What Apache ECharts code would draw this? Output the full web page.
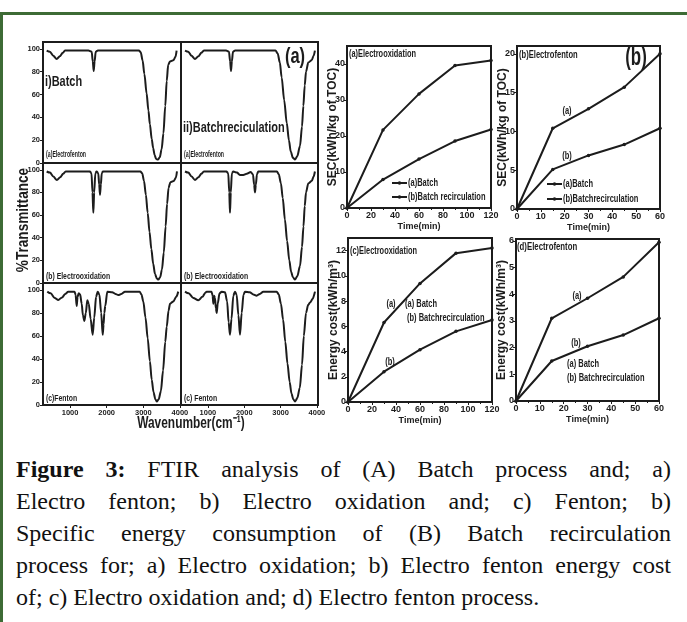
<!DOCTYPE html>
<html>
<head>
<meta charset="utf-8">
<script src="https://cdn.jsdelivr.net/npm/echarts@6/dist/echarts.min.js"></script>
<style>
  html, body { margin: 0; padding: 0; background: #fff; }
  #frame { position: absolute; left: 0; top: 12px; width: 684px; height: 607px;
           border-top: 3px solid #3d6b35; border-left: 3px solid #3d6b35; }
  #chart { position: absolute; left: 0; top: 0; width: 687px; height: 450px; }
  #caption { position: absolute; left: 16px; top: 453px; width: 655px;
             font-family: 'Liberation Serif', 'Times New Roman', serif; font-size: 24px;
             line-height: 32px; color: #111; }
  #caption div { white-space: nowrap; text-align: justify; text-align-last: justify; }
  #caption div.last { text-align-last: left; }
</style>
</head>
<body>
<div id="frame"></div>
<div id="chart"></div>
<div id="caption"></div>
<script>
// ---- FTIR spectra: [wavenumber cm-1, %T] ----
const ftirBatchEF = [[360,98.5],[450,97.5],[540,94],[634,91],[720,93.5],[800,96.5],[860,98.5],[1500,98.5],[1590,97.5],[1620,89],[1645,80.5],[1670,89],[1700,97.5],[1760,98.5],[2880,98.5],[2930,97],[2980,90],[3030,78],[3090,61],[3140,46],[3180,34],[3230,21],[3270,13],[3310,7],[3350,3.5],[3400,3],[3450,5],[3500,12],[3550,26],[3600,50],[3640,72],[3680,86],[3730,89],[3820,90],[3880,93],[3910,98.5]];
const ftirRecircEF = [[370,98.5],[460,97.5],[550,94],[645,91],[740,93.5],[820,96.5],[890,98.5],[1500,98.5],[1580,97.5],[1612,89],[1636,80.5],[1660,89],[1690,97.5],[1750,98.5],[2860,98.5],[2920,96],[2980,88],[3030,75],[3100,55],[3170,35],[3230,20],[3280,10],[3340,4.5],[3397,3],[3460,6],[3535,15],[3590,32],[3627,50],[3665,68],[3700,80],[3763,88],[3855,90],[3910,94],[3945,98.5]];
const ftirBatchEO = [[360,98.5],[450,97.5],[540,94],[640,91],[730,93.5],[810,96.5],[880,98.5],[1540,98.5],[1585,97],[1612,80],[1635,62],[1658,80],[1690,97],[1725,98.5],[1770,97],[1795,87],[1817,78],[1840,87],[1865,97],[1900,98.5],[2920,98.5],[2970,97],[3020,90],[3070,78],[3120,62],[3170,45],[3220,30],[3270,17],[3320,8],[3370,4],[3410,3],[3460,5],[3510,12],[3560,27],[3610,50],[3650,70],[3690,84],[3740,89],[3830,90],[3890,93],[3920,98.5]];
const ftirRecircEO = [[370,98.5],[460,97.5],[550,94],[645,91],[740,93.5],[820,96.5],[890,98.5],[1510,98.5],[1560,97],[1588,80],[1608,62],[1630,80],[1660,97],[1700,98.5],[1800,97.5],[1880,95.5],[1975,95.5],[2070,96.5],[2180,98],[2240,96],[2272,87],[2296,80],[2320,87],[2350,96],[2387,98.5],[2900,98.5],[2950,96],[3010,88],[3060,75],[3120,56],[3180,37],[3240,20],[3290,10],[3340,5],[3397,3],[3460,6],[3535,15],[3590,32],[3630,50],[3665,68],[3700,80],[3763,88],[3855,90],[3910,94],[3945,98.5]];
const ftirBatchFen = [[377,98.5],[470,97],[580,93],[678,91.3],[780,93.5],[870,96.5],[951,98.5],[1120,98.5],[1150,96],[1180,86],[1205,94],[1235,97],[1275,96],[1317,88],[1350,78],[1390,73],[1430,80],[1470,91],[1510,88],[1560,75],[1617,61],[1660,76],[1710,94],[1755,98.5],[1800,96],[1850,80],[1891,61],[1915,70],[1935,80],[1960,86],[2017,98.5],[2150,98],[2240,96.5],[2317,95.5],[2400,96.5],[2500,98.5],[2900,98.5],[2950,96],[3000,90],[3060,76],[3120,58],[3180,38],[3230,22],[3280,11],[3330,5],[3368,3],[3420,5],[3480,12],[3540,30],[3600,55],[3640,68],[3690,82],[3730,88],[3820,90],[3900,94],[3955,98.5]];
const ftirRecircFen = [[370,98.5],[470,97],[600,93],[736,91],[850,94],[930,97.5],[967,98.5],[1100,98.5],[1130,95],[1150,88],[1170,95],[1195,93],[1220,84],[1242,80],[1270,88],[1320,97],[1380,98.5],[1470,98],[1530,90],[1570,72],[1608,61],[1650,75],[1700,95],[1745,98.5],[1790,96],[1840,78],[1883,61],[1930,80],[1980,96],[2021,98.5],[2150,98],[2250,96],[2342,95],[2430,96.5],[2525,98.5],[2893,98.5],[2950,96],[3010,88],[3070,74],[3130,55],[3190,36],[3250,20],[3300,10],[3350,5],[3397,3],[3460,6],[3530,15],[3590,35],[3640,60],[3700,80],[3760,87],[3810,89],[3880,92],[3947,98.5]];
const ftirSpectra = [ftirBatchEF, ftirRecircEF, ftirBatchEO, ftirRecircEO, ftirBatchFen, ftirRecircFen];
const ftirLabels = ['(a)Electrofenton', '(a)Electrofenton', '(b) Electrooxidation', '(b) Electrooxidation', '(c)Fenton', '(c) Fenton'];
const wavenumberTicks = [1000, 2000, 3000, 4000];
const transTicks = [0, 20, 40, 60, 80, 100];

// ---- energy consumption ----
const timeEO = [0, 30, 60, 90, 120];
const timeEF = [0, 15, 30, 45, 60];
const secEOBatch = [0, 21.7, 31.7, 39.6, 41];
const secEORecirc = [0, 7.9, 13.6, 18.6, 21.8];
const secEFBatch = [0, 10.4, 12.9, 15.7, 20];
const secEFRecirc = [0, 5.1, 6.9, 8.3, 10.4];
const costEOBatch = [0, 6.3, 9.4, 11.8, 12.2];
const costEORecirc = [0, 2.4, 4.15, 5.6, 6.5];
const costEFBatch = [0, 3.1, 3.85, 4.65, 5.95];
const costEFRecirc = [0, 1.5, 2.05, 2.47, 3.1];
const secEOTicks = [0, 10, 20, 30, 40];
const secEFTicks = [0, 5, 10, 15, 20];
const costEOTicks = [0, 2, 4, 6, 8, 10, 12];
const costEFTicks = [0, 1, 2, 3, 4, 5, 6];

const captionLines = [
  'FTIR analysis of (A) Batch process and; a)',
  'Electro fenton; b) Electro oxidation and; c) Fenton; b)',
  'Specific energy consumption of (B) Batch recirculation',
  'process for; a) Electro oxidation; b) Electro fenton energy cost',
  'of; c) Electro oxidation and; d) Electro fenton process.'
];

const FONT = "'Liberation Sans',Arial,sans-serif";
const INK = '#1c1c1c';
const noComma = function (v) { return String(v); };

const chart = echarts.init(document.getElementById('chart'));

const grids = [], xAxes = [], yAxes = [], series = [], texts = [];

// narrow bold text (the figure uses a condensed face)
function label(x, y, text, size, align, sx) {
  texts.push({ type: 'text', x: x, y: y, scaleX: sx || 0.75,
    style: { text: text, font: 'bold ' + size + 'px ' + FONT, fill: INK, align: align || 'left', verticalAlign: 'middle' } });
}

// FTIR 3x2 panel block
const ftirCols = [{ left: 43, width: 138 }, { left: 181, width: 137 }];
const ftirRows = [{ top: 42, height: 121 }, { top: 163, height: 120 }, { top: 283, height: 122 }];
ftirSpectra.forEach(function (data, i) {
  const r = Math.floor(i / 2), c = i % 2;
  grids.push({
    left: ftirCols[c].left, width: ftirCols[c].width,
    top: ftirRows[r].top, height: ftirRows[r].height,
    show: true, borderColor: INK, borderWidth: 2, outerBoundsMode: 'none'
  });
  xAxes.push({
    gridIndex: i, type: 'value', min: 260, max: 4030,
    axisLine: { show: false }, splitLine: { show: false },
    axisTick: { show: r === 2, customValues: wavenumberTicks, length: 3, lineStyle: { color: INK } },
    axisLabel: { show: r === 2, customValues: wavenumberTicks, formatter: noComma, fontSize: 7.5, fontWeight: 'bold', color: INK, margin: 4 }
  });
  yAxes.push({
    gridIndex: i, type: 'value', min: 0, max: 106,
    axisLine: { show: false }, splitLine: { show: false },
    axisTick: { show: c === 0, customValues: transTicks, length: 3, lineStyle: { color: INK } },
    axisLabel: { show: c === 0, customValues: transTicks, fontSize: 7.5, fontWeight: 'bold', color: INK, margin: 3 }
  });
  series.push({
    type: 'line', xAxisIndex: i, yAxisIndex: i, data: data,
    showSymbol: false, smooth: 0.3, smoothMonotone: 'x',
    lineStyle: { color: INK, width: 2 }
  });
  if (r === 0) label(ftirCols[c].left + 3, ftirRows[r].top + ftirRows[r].height - 8, ftirLabels[i], 9, 'left', 0.58);
  else label(ftirCols[c].left + 3, ftirRows[r].top + ftirRows[r].height - 7, ftirLabels[i], 9.5, 'left', 0.72);
});

// right-hand energy plots
const energyPanels = [
  { grid: { left: 347, top: 46, width: 144, height: 162 }, time: timeEO, a: secEOBatch, b: secEORecirc,
    xMax: 120, xInt: 20, yMax: 45, yTicks: secEOTicks, yName: 'SEC(kWh/kg of TOC)' },
  { grid: { left: 517, top: 46, width: 143, height: 163 }, time: timeEF, a: secEFBatch, b: secEFRecirc,
    xMax: 60, xInt: 10, yMax: 21, yTicks: secEFTicks, yName: 'SEC(kWh/kg of TOC)' },
  { grid: { left: 348, top: 238, width: 144, height: 164 }, time: timeEO, a: costEOBatch, b: costEORecirc,
    xMax: 120, xInt: 20, yMax: 13, yTicks: costEOTicks, yName: 'Energy cost(kWh/m³)' },
  { grid: { left: 516, top: 239, width: 143, height: 162 }, time: timeEF, a: costEFBatch, b: costEFRecirc,
    xMax: 60, xInt: 10, yMax: 6.07, yTicks: costEFTicks, yName: 'Energy cost(kWh/m³)' }
];
energyPanels.forEach(function (p, k) {
  const gi = 6 + k;
  grids.push(Object.assign({ show: true, borderColor: INK, borderWidth: 2, outerBoundsMode: 'none' }, p.grid));
  xAxes.push({
    gridIndex: gi, type: 'value', min: 0, max: p.xMax, interval: p.xInt,
    name: 'Time(min)', nameLocation: 'middle', nameGap: 14, nameMoveOverlap: false,
    nameTextStyle: { fontSize: 9, fontWeight: 'bold', color: INK, fontFamily: FONT },
    axisLine: { lineStyle: { color: INK, width: 2 } }, splitLine: { show: false },
    axisTick: { length: 3, lineStyle: { color: INK } },
    minorTick: { show: true, splitNumber: 2, length: 2, lineStyle: { color: INK } },
    axisLabel: { fontSize: 9, fontWeight: 'bold', color: INK, margin: 3 }
  });
  yAxes.push({
    gridIndex: gi, type: 'value', min: 0, max: p.yMax,
    name: p.yName, nameLocation: 'middle', nameGap: 8, nameMoveOverlap: false,
    nameTextStyle: { fontSize: 12, fontWeight: 'bold', color: INK, fontFamily: FONT },
    axisLine: { lineStyle: { color: INK, width: 2 } }, splitLine: { show: false },
    axisTick: { customValues: p.yTicks, length: 3, lineStyle: { color: INK } },
    axisLabel: { customValues: p.yTicks, fontSize: 9, fontWeight: 'bold', color: INK, margin: 2 }
  });
  [p.a, p.b].forEach(function (vals) {
    series.push({
      type: 'line', xAxisIndex: gi, yAxisIndex: gi,
      data: p.time.map(function (t, n) { return [t, vals[n]]; }),
      symbol: 'circle', symbolSize: 3.5,
      itemStyle: { color: INK }, lineStyle: { color: INK, width: 2 }
    });
  });
});

// legend keys drawn as line + dot + text
function legendKey(x, y, text) {
  texts.push({ type: 'line', shape: { x1: x, y1: y, x2: x + 15, y2: y }, style: { stroke: INK, lineWidth: 2 } });
  texts.push({ type: 'circle', shape: { cx: x + 7.5, cy: y, r: 1.8 }, style: { fill: INK } });
  label(x + 16, y, text, 10, 'left', 0.75);
}

// panel annotations
label(45, 82, 'i)Batch', 15, 'left', 0.73);
label(183, 128, 'ii)Batchreciculation', 15, 'left', 0.73);
label(295, 57, '(a)', 22, 'center', 0.75);
label(23, 220, '%Transmittance', 17, 'center', 0.8);
texts[texts.length - 1].rotation = Math.PI / 2;
label(191, 423, 'Wavenumber(cm⁻¹)', 17, 'center', 0.7);

label(349, 54, '(a)Electrooxidation', 10, 'left', 0.74);
legendKey(392, 183, '(a)Batch');
legendKey(392, 197, '(b)Batch recirculation');

label(519, 55, '(b)Electrofenton', 10, 'left', 0.76);
label(636, 58, '(b)', 26, 'center', 0.65);
label(567, 111, '(a)', 10, 'center');
label(567, 156, '(b)', 10, 'center');
legendKey(547, 184, '(a)Batch');
legendKey(547, 199, '(b)Batchrecirculation');

label(350, 251, '(c)Electrooxidation', 10, 'left', 0.74);
label(391, 304, '(a)', 10, 'center');
label(405, 304, '(a) Batch', 10);
label(407, 318, '(b) Batchrecirculation', 10);
label(390, 362, '(b)', 10, 'center');

label(517, 247, '(d)Electrofenton', 10, 'left', 0.78);
label(577, 296, '(a)', 10, 'center');
label(576, 343, '(b)', 10, 'center');
label(567, 364, '(a) Batch', 10);
label(567, 378, '(b) Batchrecirculation', 10);

chart.setOption({
  animation: false,
  textStyle: { fontFamily: FONT },
  grid: grids,
  xAxis: xAxes,
  yAxis: yAxes,
  graphic: texts,
  series: series
});

const cap = document.getElementById('caption');
captionLines.forEach(function (line, i) {
  const d = document.createElement('div');
  if (i === 0) {
    const b = document.createElement('b');
    b.textContent = 'Figure 3:';
    d.appendChild(b);
    d.appendChild(document.createTextNode(' ' + line));
  } else {
    d.textContent = line;
  }
  if (i === captionLines.length - 1) d.className = 'last';
  cap.appendChild(d);
});
</script>
</body>
</html>
